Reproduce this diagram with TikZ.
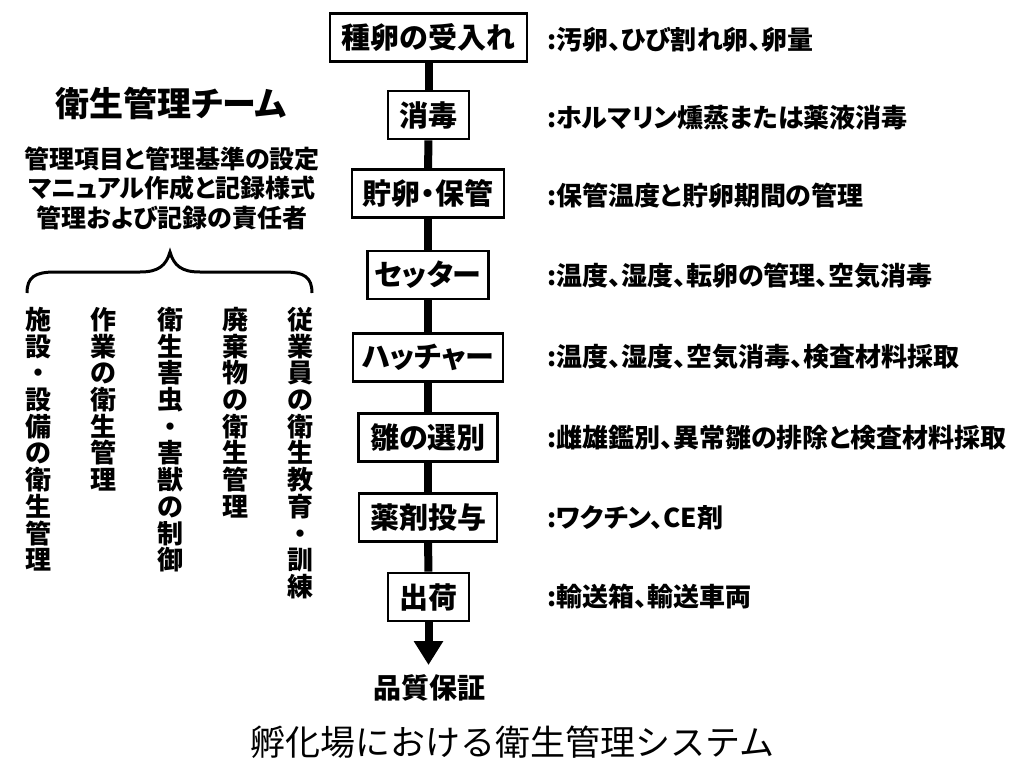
\documentclass[tikz,border=0pt]{standalone}
\usepackage{fontspec}
\setmainfont{Noto Sans CJK JP}[CharacterWidth=AlternateProportional]
\newfontfamily\titlefont{Noto Sans CJK JP}
\usetikzlibrary{arrows.meta}
\begin{document}
\begin{tikzpicture}[x=1pt,y=-1pt,
  stepbox/.style={draw, line width=2.6pt, fill=white, minimum height=48pt, inner sep=0pt,
    font=\bfseries\fontsize{29}{30}\selectfont},
  desc/.style={anchor=west, inner sep=0pt, font=\bfseries\fontsize{26}{28}\selectfont},
  flow/.style={line width=8pt},
  vcol/.style={anchor=north, inner sep=0pt, align=center, font=\bfseries\fontsize{26}{26.7}\selectfont},
]
\useasboundingbox (0,0) rectangle (1024,768);
\fill[white] (0,0) rectangle (1024,768);

% flow boxes
\node[stepbox, minimum width=197pt] (b1) at (428.5,37.5) {種卵の受入れ};
\node[stepbox, minimum width=81pt]  (b2) at (428.5,115) {消毒};
\node[stepbox, minimum width=152pt] (b3) at (428,193.5) {貯卵・保管};
\node[stepbox, minimum width=121pt] (b4) at (428,275) {セッター};
\node[stepbox, minimum width=150pt] (b5) at (428,357.5) {ハッチャー};
\node[stepbox, minimum width=139pt] (b6) at (428,437.5) {雛の選別};
\node[stepbox, minimum width=138pt] (b7) at (428,517.5) {薬剤投与};
\node[stepbox, minimum width=81pt]  (b8) at (428.5,597) {出荷};
\coordinate (tip) at (428.5,665);

\draw[flow] (b1) -- (b2);
\draw[flow] (b2) -- (b3);
\draw[flow] (b3) -- (b4);
\draw[flow] (b4) -- (b5);
\draw[flow] (b5) -- (b6);
\draw[flow] (b6) -- (b7);
\draw[flow] (b7) -- (b8);
\draw[flow, -{Triangle[width=28pt,length=24pt]}] (b8) -- (tip);

\node[inner sep=0pt, font=\bfseries\fontsize{28}{30}\selectfont] (qa) at (429,688) {品質保証};

% descriptions
\node[desc] (d1) at (547,40)  {:汚卵、ひび割れ卵、卵量};
\node[desc] (d2) at (547,118) {:ホルマリン燻蒸または薬液消毒};
\node[desc] (d3) at (547,196) {:保管温度と貯卵期間の管理};
\node[desc] (d4) at (547,276) {:温度、湿度、転卵の管理、空気消毒};
\node[desc] (d5) at (547,357) {:温度、湿度、空気消毒、検査材料採取};
\node[desc] (d6) at (547,438) {:雌雄鑑別、異常雛の排除と検査材料採取};
\node[desc] (d7) at (547,518) {:ワクチン、CE剤};
\node[desc] (d8) at (547,597) {:輸送箱、輸送車両};

% left side
\node[inner sep=0pt, font=\bfseries\fontsize{34}{36}\selectfont] (team) at (171,103) {衛生管理チーム};
\node[inner sep=0pt, align=center, font=\bfseries\fontsize{25}{29.5}\selectfont] (duty) at (172,188)
  {管理項目と管理基準の設定\\マニュアル作成と記録様式\\管理および記録の責任者};

\draw[line width=3pt] (27,293) .. controls (27,277) and (35,272) .. (55,272) -- (140,272)
  .. controls (158,272) and (166,266) .. (170,252)
  .. controls (174,266) and (182,272) .. (200,272) -- (284,272)
  .. controls (304,272) and (312,277) .. (312,293);

\node[vcol] (c1) at (38,307)  {施\\設\\・\\設\\備\\の\\衛\\生\\管\\理};
\node[vcol] (c2) at (103,307) {作\\業\\の\\衛\\生\\管\\理};
\node[vcol] (c3) at (170,307) {衛\\生\\害\\虫\\・\\害\\獣\\の\\制\\御};
\node[vcol] (c4) at (235,307) {廃\\棄\\物\\の\\衛\\生\\管\\理};
\node[vcol] (c5) at (300,307) {従\\業\\員\\の\\衛\\生\\教\\育\\・\\訓\\練};

% title
\node[inner sep=0pt, font=\titlefont\fontsize{35}{38}\selectfont] (title) at (512,742) {孵化場における衛生管理システム};
\end{tikzpicture}
\end{document}
